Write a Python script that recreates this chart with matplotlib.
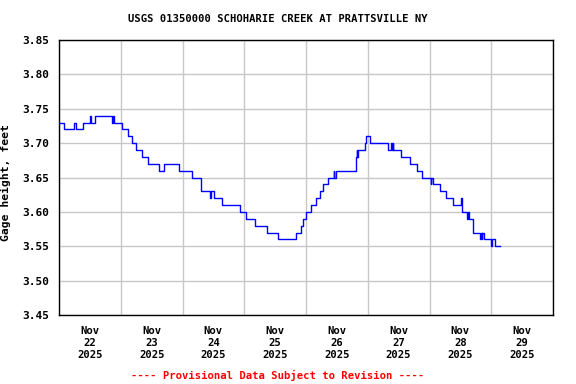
"""Gage height plot, USGS 01350000 Schoharie Creek at Prattsville NY."""

import matplotlib

matplotlib.use("Agg")
import matplotlib.dates as mdates
import matplotlib.pyplot as plt
import pandas as pd

TITLE = "USGS 01350000 SCHOHARIE CREEK AT PRATTSVILLE NY"
Y_LABEL = "Gage height, feet"
FOOTNOTE = "---- Provisional Data Subject to Revision ----"

START = "2025-11-22 00:00"
END = "2025-11-30 00:00"

# hours since START where the reading changes, and the new reading (ft)
hours = [
    0.0, 1.75, 5.75, 6.5, 9.5, 12.0, 12.25, 14.0, 20.75, 21.0, 21.25,
    24.5, 26.75, 28.5, 30.0, 32.25, 34.75, 39.0, 41.0, 46.5, 51.75,
    55.25, 58.75, 59.25, 60.25, 63.25, 70.5, 72.5, 76.25, 80.75, 85.0,
    92.25, 94.0, 94.75, 96.0, 98.0, 100.0, 101.5, 102.75, 104.5, 106.75,
    107.0, 107.5, 115.5, 115.75, 116.0, 116.25, 118.75, 119.25, 121.0,
    128.0, 129.0, 129.25, 129.75, 130.0, 133.0, 136.5, 139.25, 141.25,
    144.5, 144.75, 145.5, 148.0, 150.5, 153.25, 156.25, 156.5, 158.75,
    159.0, 159.5, 161.0, 163.75, 164.0, 164.25, 164.5, 165.0, 168.0,
    168.25, 169.5, 171.5,
]
gage_ft = [
    3.73, 3.72, 3.73, 3.72, 3.73, 3.74, 3.73, 3.74, 3.73, 3.74, 3.73,
    3.72, 3.71, 3.70, 3.69, 3.68, 3.67, 3.66, 3.67, 3.66, 3.65,
    3.63, 3.62, 3.63, 3.62, 3.61, 3.60, 3.59, 3.58, 3.57, 3.56,
    3.57, 3.58, 3.59, 3.60, 3.61, 3.62, 3.63, 3.64, 3.65, 3.66,
    3.65, 3.66, 3.68, 3.69, 3.68, 3.69, 3.70, 3.71, 3.70,
    3.69, 3.70, 3.69, 3.70, 3.69, 3.68, 3.67, 3.66, 3.65,
    3.64, 3.65, 3.64, 3.63, 3.62, 3.61, 3.62, 3.60, 3.59,
    3.60, 3.59, 3.57, 3.56, 3.57, 3.56, 3.57, 3.56, 3.55,
    3.56, 3.55, 3.55,
]

y_ticks = [3.45, 3.50, 3.55, 3.60, 3.65, 3.70, 3.75, 3.80, 3.85]

FONT = "DejaVu Sans Mono"

times = pd.Timestamp(START) + pd.to_timedelta(hours, unit="h")

fig = plt.figure(figsize=(5.76, 3.84), dpi=100)
ax = fig.add_axes([59 / 576, 1 - 315 / 384, 494 / 576, 275 / 384])

ax.step(times, gage_ft, where="post", color="#0000FF", linewidth=1.0, zorder=3)

ax.set_xlim(pd.Timestamp(START), pd.Timestamp(END))
ax.set_ylim(3.45, 3.85)

# labels sit at noon, grid lines at midnight
ax.xaxis.set_major_locator(mdates.HourLocator(byhour=12))
ax.xaxis.set_major_formatter(mdates.DateFormatter("%b\n%d\n%Y"))
ax.xaxis.set_minor_locator(mdates.HourLocator(byhour=0))
ax.xaxis.grid(True, which="minor", color="#C8C8C8", linewidth=1.0)
ax.set_yticks(y_ticks)
ax.set_yticklabels([f"{v:.2f}" for v in y_ticks])
ax.yaxis.grid(True, color="#C8C8C8", linewidth=1.0)
ax.set_axisbelow(True)

ax.tick_params(axis="x", which="both", length=0, pad=8)
ax.tick_params(axis="y", length=0, pad=7)
for lbl in ax.get_xticklabels():
    lbl.set_fontfamily(FONT)
    lbl.set_fontweight("bold")
    lbl.set_fontsize(7.6)
    lbl.set_linespacing(1.22)
for lbl in ax.get_yticklabels():
    lbl.set_fontfamily(FONT)
    lbl.set_fontweight("bold")
    lbl.set_fontsize(8.0)

for spine in ax.spines.values():
    spine.set_color("black")
    spine.set_linewidth(1.0)

ax.set_ylabel(Y_LABEL, family=FONT, fontweight="bold", fontsize=8.2)
ax.yaxis.set_label_coords(-0.097, 0.48)

fig.text(277.5 / 576, 1 - 19 / 384, TITLE, ha="center", va="center",
         family=FONT, fontweight="bold", fontsize=7.6)
fig.text(277.5 / 576, 1 - 375 / 384, FOOTNOTE, ha="center", va="center",
         family=FONT, fontweight="bold", fontsize=7.6, color="#FF0000")

fig.savefig("out.png", dpi=100, facecolor="white")
